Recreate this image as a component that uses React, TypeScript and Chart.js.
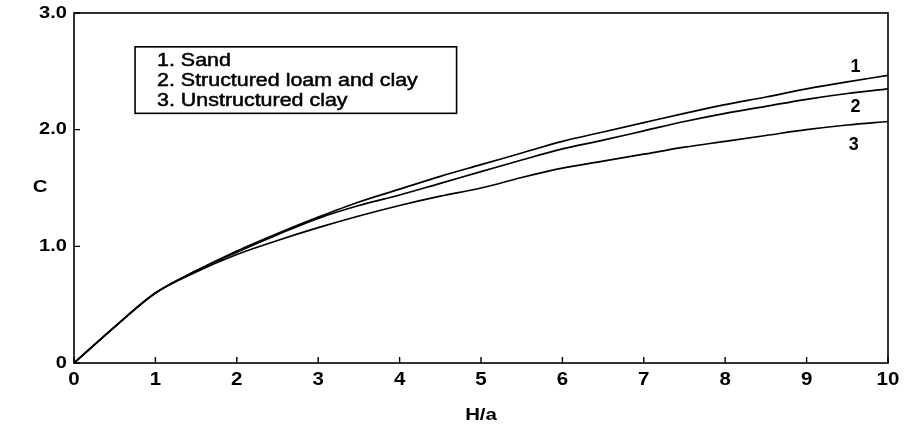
import React, { useEffect, useRef } from "react";
import { Chart, registerables } from "chart.js";

Chart.register(...registerables);

const hOverA = [0, 0.5, 1, 1.5, 2, 2.5, 3, 3.5, 4, 4.5, 5, 5.5, 6, 6.5, 7, 7.5, 8, 8.5, 9, 9.5, 10];
const sand = [0, 0.31, 0.6, 0.79, 0.96, 1.11, 1.25, 1.38, 1.49, 1.6, 1.7, 1.8, 1.9, 1.98, 2.06, 2.14, 2.215, 2.28, 2.35, 2.41, 2.465];
const structured = [0, 0.31, 0.6, 0.79, 0.95, 1.1, 1.24, 1.35, 1.44, 1.54, 1.64, 1.74, 1.835, 1.91, 1.99, 2.07, 2.14, 2.2, 2.26, 2.31, 2.35];
const unstructured = [0, 0.31, 0.6, 0.78, 0.93, 1.05, 1.16, 1.26, 1.35, 1.43, 1.5, 1.59, 1.67, 1.73, 1.79, 1.85, 1.9, 1.95, 2.0, 2.04, 2.07];

const xTicks = [0, 1, 2, 3, 4, 5, 6, 7, 8, 9, 10];
const xTickLabels = ["0", "1", "2", "3", "4", "5", "6", "7", "8", "9", "10"];
const yTicks = [0, 1, 2, 3];
const yTickLabels = ["0", "1.0", "2.0", "3.0"];
const legendLines = ["1. Sand", "2. Structured loam and clay", "3. Unstructured clay"];
const curveLabels = [
  { text: "1", x: 9.6, y: 2.54 },
  { text: "2", x: 9.6, y: 2.19 },
  { text: "3", x: 9.58, y: 1.87 },
];

const FONT = "'Liberation Sans', Arial, Helvetica, sans-serif";

function txt(ctx: CanvasRenderingContext2D, s: string, x: number, y: number, font: string, sx: number, align: CanvasTextAlign, stroke = 0) {
  ctx.save();
  ctx.font = font;
  ctx.translate(x, y);
  ctx.scale(sx, 1);
  ctx.textAlign = align;
  ctx.textBaseline = "middle";
  ctx.fillStyle = "#000";
  ctx.fillText(s, 0, 0);
  if (stroke > 0) {
    ctx.strokeStyle = "#000";
    ctx.lineWidth = stroke;
    ctx.strokeText(s, 0, 0);
  }
  ctx.restore();
}

const framePlugin = {
  id: "frame",
  afterDraw(chart: any) {
    const { ctx, chartArea, scales } = chart;
    const xs = scales.x;
    const ys = scales.y;
    ctx.save();
    ctx.strokeStyle = "#000";
    ctx.lineWidth = 1.6;
    ctx.strokeRect(chartArea.left, chartArea.top, chartArea.right - chartArea.left, chartArea.bottom - chartArea.top);
    // inner ticks
    ctx.lineWidth = 1.4;
    ctx.beginPath();
    for (const t of xTicks) {
      const px = xs.getPixelForValue(t);
      ctx.moveTo(px, chartArea.bottom);
      ctx.lineTo(px, chartArea.bottom - 6);
    }
    for (const t of yTicks) {
      const py = ys.getPixelForValue(t);
      ctx.moveTo(chartArea.left, py);
      ctx.lineTo(chartArea.left + 6, py);
    }
    ctx.stroke();

    // tick labels
    xTicks.forEach((t, i) => {
      txt(ctx, xTickLabels[i], xs.getPixelForValue(t), chartArea.bottom + 17, `bold 19px ${FONT}`, 1.08, "center");
    });
    yTicks.forEach((t, i) => {
      txt(ctx, yTickLabels[i], chartArea.left - 7, ys.getPixelForValue(t), `bold 17px ${FONT}`, 1.18, "right");
    });

    // legend box
    const bx = xs.getPixelForValue(0.75);
    const by = ys.getPixelForValue(2.71);
    const bx2 = xs.getPixelForValue(4.7);
    const by2 = ys.getPixelForValue(2.14);
    ctx.lineWidth = 1.6;
    ctx.strokeRect(bx, by, bx2 - bx, by2 - by);
    legendLines.forEach((s, i) => {
      txt(ctx, s, bx + 22, by + 14 + i * 20, `18px ${FONT}`, 1.19, "left", 0.5);
    });

    // curve labels
    for (const c of curveLabels) {
      txt(ctx, c.text, xs.getPixelForValue(c.x), ys.getPixelForValue(c.y), `bold 18px ${FONT}`, 1.0, "center");
    }

    // axis titles
    txt(ctx, "C", 40, ys.getPixelForValue(1.51), `bold 17px ${FONT}`, 1.2, "center");
    txt(ctx, "H/a", (chartArea.left + chartArea.right) / 2, 415, `bold 17px ${FONT}`, 1.2, "center");
    ctx.restore();
  },
};

export default function App() {
  const ref = useRef<HTMLCanvasElement>(null);
  useEffect(() => {
    document.body.style.margin = "0";
    const mk = (label: string, data: number[]) => ({
      label,
      data: hOverA.map((x, i) => ({ x, y: data[i] })),
      borderColor: "#000",
      borderWidth: 1.7,
      pointRadius: 0,
      fill: false,
      cubicInterpolationMode: "monotone" as const,
    });
    const chart = new Chart(ref.current!, {
      type: "line",
      data: {
        datasets: [mk(legendLines[0], sand), mk(legendLines[1], structured), mk(legendLines[2], unstructured)],
      },
      options: {
        responsive: false,
        animation: false,
        layout: { padding: { top: 13, right: 16, left: 0, bottom: 0 } },
        plugins: { legend: { display: false }, tooltip: { enabled: false } },
        scales: {
          x: {
            type: "linear",
            min: 0,
            max: 10,
            afterFit: (s: any) => { s.height = 63; },
            afterBuildTicks: (s: any) => { s.ticks = xTicks.map((v) => ({ value: v })); },
            grid: { display: false, drawTicks: false },
            border: { display: false },
            ticks: { display: false },
          },
          y: {
            type: "linear",
            min: 0,
            max: 3,
            afterFit: (s: any) => { s.width = 74; },
            afterBuildTicks: (s: any) => { s.ticks = yTicks.map((v) => ({ value: v })); },
            grid: { display: false, drawTicks: false },
            border: { display: false },
            ticks: { display: false },
          },
        },
      },
      plugins: [framePlugin],
    });
    return () => chart.destroy();
  }, []);
  return <canvas ref={ref} width={904} height={426} style={{ display: "block" }} />;
}
